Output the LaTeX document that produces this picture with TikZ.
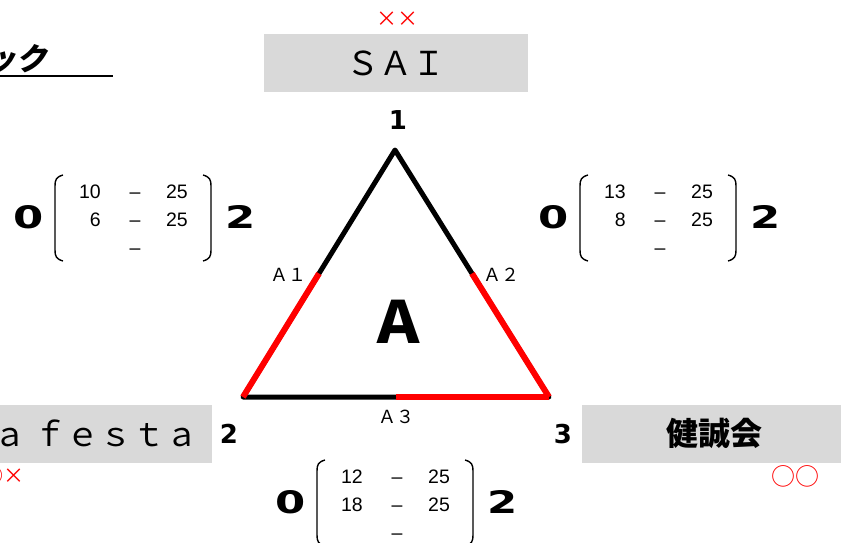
\documentclass[tikz,border=0pt]{standalone}
\usepackage{fontspec}
\setmainfont{Noto Sans CJK JP}
\newfontfamily\numfont{Liberation Sans}
\newfontfamily\heavyfont{DejaVu Sans}
\newfontfamily\titlefont{Noto Sans CJK JP}[FakeSlant=0.2]
\usetikzlibrary{calc}
\definecolor{PoolGray}{HTML}{D9D9D9}
\definecolor{PoolRed}{HTML}{FF0000}

\tikzset{
  teambox/.style={fill=PoolGray,minimum width=264pt,minimum height=58pt,inner sep=0pt},
  boxtext/.style={font=\fontsize{33}{36}\selectfont},
  vertexno/.style={font=\heavyfont\bfseries\fontsize{26}{28}\selectfont,inner sep=0pt},
  heavy/.style={font=\heavyfont\bfseries\fontsize{31}{33}\selectfont,inner sep=0pt},
  pts/.style={font=\numfont\fontsize{19.5}{21}\selectfont,inner sep=0pt,text height=14pt,text depth=0pt},
  setlabel/.style={font=\fontsize{18}{20}\selectfont,inner sep=0pt},
  redmark/.style={text=PoolRed,font=\fontsize{21}{23}\selectfont,inner sep=0pt},
  bracket/.style={line width=1.4pt},
  edge/.style={line width=5pt,line join=round},
  edgewin/.style={PoolRed,line width=6pt}
}

% one score block: name, top of left bracket, first set, second set
\newcommand{\scoreblock}[4]{%
  \begin{scope}[shift={#2}]
    \node[heavy] (#1-won) at (-26,42) {\scalebox{1.4}[1]{0}};
    \draw[bracket] (8,0) .. controls (1,2) and (0,5) .. (0,11) -- (0,75) .. controls (0,81) and (1,84) .. (8,86);
    \draw[bracket] (148,0) .. controls (155,2) and (156,5) .. (156,11) -- (156,75) .. controls (156,81) and (155,84) .. (148,86);
    \node[pts,anchor=east] (#1-s1) at (46,16) {#3};
    \node[pts] (#1-d1) at (80,16) {–};
    \node[pts] (#1-o1) at (122,16) {25};
    \node[pts,anchor=east] (#1-s2) at (46,44) {#4};
    \node[pts] (#1-d2) at (80,44) {–};
    \node[pts] (#1-o2) at (122,44) {25};
    \node[pts] (#1-d3) at (80,72) {–};
    \node[heavy] (#1-lost) at (186,42) {\scalebox{1.4}[1]{2}};
  \end{scope}}

\begin{document}
\begin{tikzpicture}[x=1pt,y=-1pt]
  \useasboundingbox (0,0) rectangle (841,543);

  % heading
  \node[font=\titlefont\bfseries\fontsize{31}{33}\selectfont,anchor=east,inner sep=0pt] (title) at (48,59) {ック};
  \draw[line width=1.5pt] (-2,76) -- (113,76);

  % teams
  \node[teambox,boxtext] (team1) at (396,63) {ＳＡＩ};
  \node[teambox] (team2) at (80,433.5) {};
  \node[boxtext,anchor=east,inner sep=0pt] (name2) at (199,433.5) {ａ ｆｅｓｔａ};
  \node[teambox,font=\bfseries\fontsize{32}{34}\selectfont] (team3) at (714,433.5) {健誠会};

  \node[redmark] (mark1) at (397,19) {××};
  \node[redmark,anchor=east] (mark2) at (25,476) {○×};
  \node[redmark,font=\fontsize{24}{26}\selectfont] (mark3) at (795,476) {○○};

  % triangle
  \coordinate (v1) at (395,150);
  \coordinate (v2) at (243,397);
  \coordinate (v3) at (549,397);
  \coordinate (a1) at ($(v1)!0.5!(v2)$);
  \coordinate (a2) at ($(v1)!0.5!(v3)$);
  \coordinate (a3) at ($(v2)!0.5!(v3)$);
  \draw[edge] (v1) -- (v2) -- (v3) -- cycle;
  \draw[edgewin] (v2) -- (a1);
  \draw[edgewin] (a2) -- (v3);
  \draw[edgewin] (a3) -- (v3);

  \node[vertexno] (n1) at (398,120) {1};
  \node[vertexno] (n2) at (229,434) {2};
  \node[vertexno] (n3) at (563,434) {3};

  \node[setlabel] (l1) at (288,275) {Ａ１};
  \node[setlabel] (l2) at (501,275) {Ａ２};
  \node[setlabel] (l3) at (396,417) {Ａ３};
  \node[font=\bfseries\fontsize{58}{60}\selectfont,inner sep=0pt] (pool) at (398,322) {Ａ};

  % scores
  \scoreblock{m12}{(55,175)}{10}{6}
  \scoreblock{m13}{(580,175)}{13}{8}
  \scoreblock{m23}{(317,460)}{12}{18}
\end{tikzpicture}
\end{document}
